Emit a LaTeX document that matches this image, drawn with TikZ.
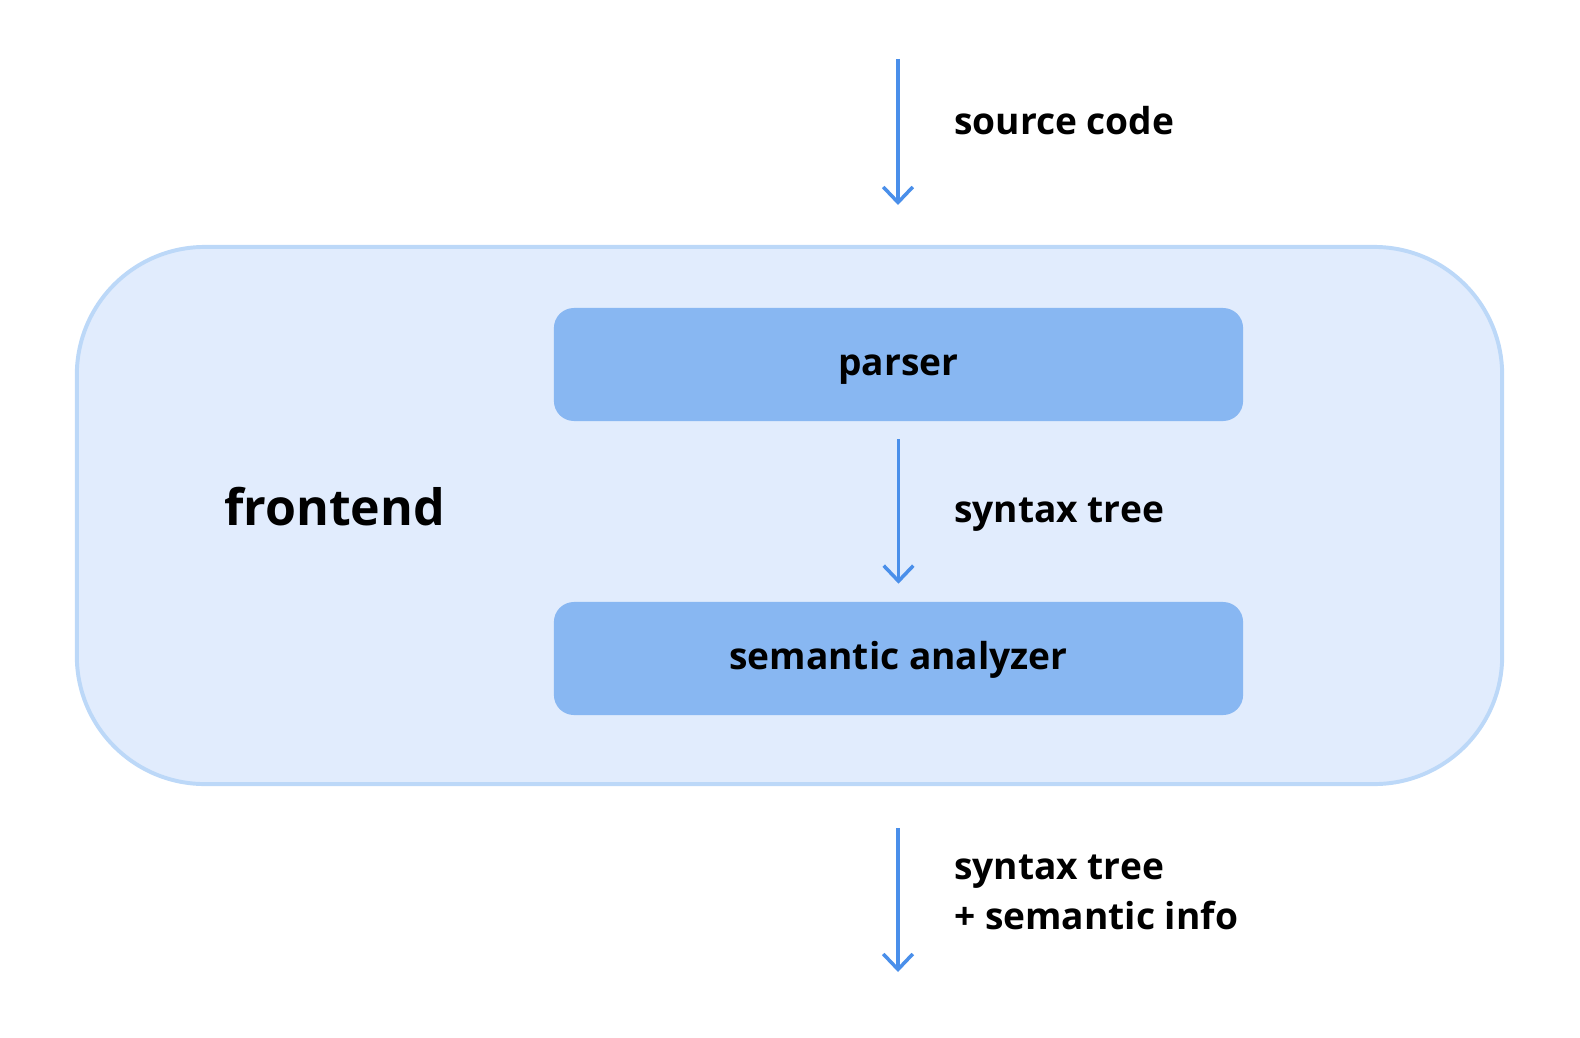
\documentclass[tikz,border=0pt]{standalone}
\usepackage{fontspec}
\setmainfont{Open Sans}
\usetikzlibrary{arrows.meta}
\definecolor{flowblue}{HTML}{4A8FEA}
\definecolor{stageblue}{HTML}{88B7F2}
\definecolor{framefill}{HTML}{E1ECFD}
\definecolor{frameline}{HTML}{BCD8F8}
\begin{document}
\begin{tikzpicture}[x=0.025cm, y=-0.025cm,
    stage/.style={rectangle, fill=stageblue, rounded corners=0.5cm, minimum width=17.225cm, minimum height=2.825cm, text height=15.6pt, text depth=0pt, font=\fontsize{26.4}{32}\selectfont\bfseries},
    flow/.style={draw=flowblue, line width=2.5pt, -{Straight Barb[length=11pt, width=21pt, line width=2.5pt]}},
    note/.style={anchor=west, align=left, inner sep=0pt, font=\fontsize{26.4}{35.6}\selectfont\bfseries}]
    \useasboundingbox (0,0) rectangle (1580,1038);

    % Frontend frame
    \node[draw=frameline, fill=framefill, line width=2.8pt, rounded corners=3.2cm, minimum width=35.625cm, minimum height=13.425cm] (frame) at (789.5,515.5) {};
    \node[anchor=west, inner sep=0pt, font=\fontsize{35.6}{40}\selectfont\bfseries] (frontend) at (224,507) {frontend};

    % Stages
    \node[stage] (parser) at (898.5,364.5) {parser};
    \node[stage] (analyzer) at (898.5,658.5) {semantic analyzer};

    % Input and output ends
    \coordinate (in) at (898,59);
    \coordinate (inend) at (898,205);
    \coordinate (out) at (898,828);
    \coordinate (outend) at (898,972);

    % Labels
    \node[note] (srclabel) at (954,121) {source code};
    \node[note] (treelabel) at (954,515) {syntax tree};
    \node[note] (infolabel) at (954,892) {syntax tree\\+ semantic info};

    % Connections
    \draw[flow] (in) -- (inend);
    \draw[flow, shorten <=0.45cm, shorten >=0.45cm] (parser) -- (analyzer);
    \draw[flow] (out) -- (outend);
\end{tikzpicture}
\end{document}
